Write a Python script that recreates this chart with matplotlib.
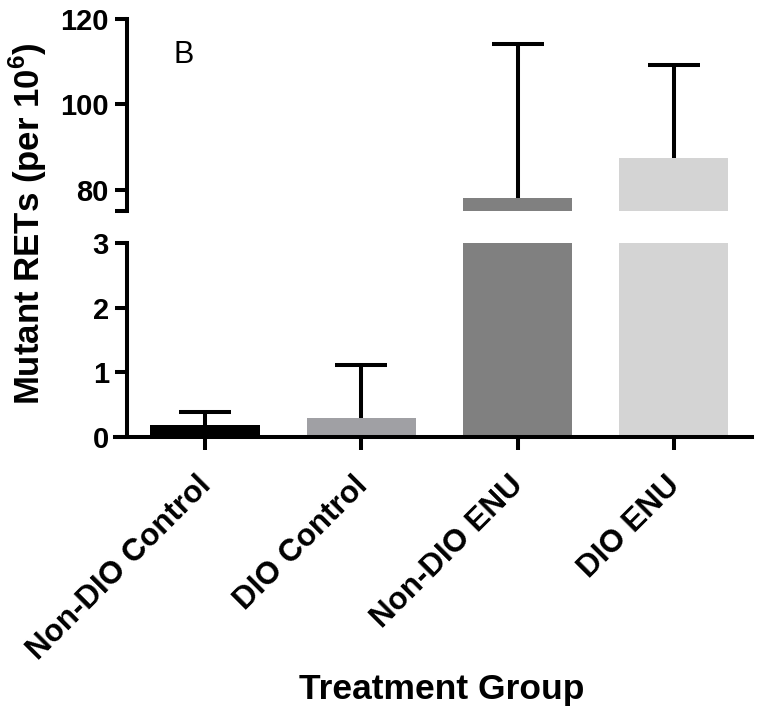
import matplotlib.pyplot as plt
import matplotlib.transforms as mtrans
import numpy as np

# data
groups = ['Non-DIO Control', 'DIO Control', 'Non-DIO ENU', 'DIO ENU']
means = [0.19, 0.29, 78.0, 87.5]
errs = [0.19, 0.83, 36.2, 21.7]
colors = ['#000000', '#a0a0a4', '#808080', '#d4d4d4']

top_ticks = [80, 100, 120]
bottom_ticks = [0, 1, 2, 3]

plt.rcParams['font.family'] = ['Liberation Sans', 'DejaVu Sans']
plt.rcParams['mathtext.fontset'] = 'custom'
plt.rcParams['mathtext.rm'] = 'Liberation Sans:bold'
plt.rcParams['mathtext.bf'] = 'Liberation Sans:bold'

lw = 2.9
fig = plt.figure(figsize=(7.62, 7.14), dpi=100)
ax_top = fig.add_axes([0.1667, 0.7045, 0.820, 0.2689])
ax_bot = fig.add_axes([0.1667, 0.388, 0.820, 0.2717])

x = np.arange(len(groups))
for ax in (ax_top, ax_bot):
    ax.bar(x, means, width=0.7, color=colors, zorder=2)
    eb = ax.errorbar(x, means, yerr=[np.zeros(len(errs)), errs], fmt='none',
                     ecolor='black', elinewidth=lw, capsize=18.5, capthick=lw, zorder=3)
    # only the upper cap, like the original
    eb[1][0].set_visible(False)
    ax.set_xlim(-0.5, 3.5)
    for side in ['top', 'right']:
        ax.spines[side].set_visible(False)
    ax.spines['left'].set_linewidth(lw)
    ax.spines['bottom'].set_linewidth(lw)
    ax.tick_params(axis='y', length=9, width=lw, labelsize=21, pad=4)

# upper segment
ax_top.set_ylim(75, 120)
ax_top.spines['bottom'].set_visible(False)
ax_top.set_xticks([])
ax_top.set_yticks([75] + top_ticks)
ax_top.set_yticklabels([''] + [str(t) for t in top_ticks], fontweight='bold')

# lower segment
ax_bot.set_ylim(0, 3)
ax_bot.set_yticks(bottom_ticks)
ax_bot.set_yticklabels([str(t) for t in bottom_ticks], fontweight='bold')
ax_bot.spines['bottom'].set_bounds(-0.58, 3.5)
ax_bot.set_xticks(x)
ax_bot.set_xticklabels(groups, rotation=45, ha='right', va='top', rotation_mode='anchor',
                       fontsize=22.5, fontweight='bold')
ax_bot.tick_params(axis='x', length=9, width=lw, pad=15)
shift = mtrans.ScaledTranslation(-0.09, 0, fig.dpi_scale_trans)
for lab in ax_bot.get_xticklabels():
    lab.set_transform(lab.get_transform() + shift)

ax_top.text(0.09, 0.81, 'B', transform=ax_top.transAxes, fontsize=22,
            ha='center', va='center')

fig.text(0.037, 1 - 224 / 714, r'Mutant RETs (per 10$^{6}$)', rotation=90,
         fontsize=25, fontweight='bold', ha='center', va='center')
fig.text(0.58, 1 - 690 / 714, 'Treatment Group', fontsize=25.5,
         fontweight='bold', ha='center', va='center')

plt.savefig('out.png', dpi=100)
